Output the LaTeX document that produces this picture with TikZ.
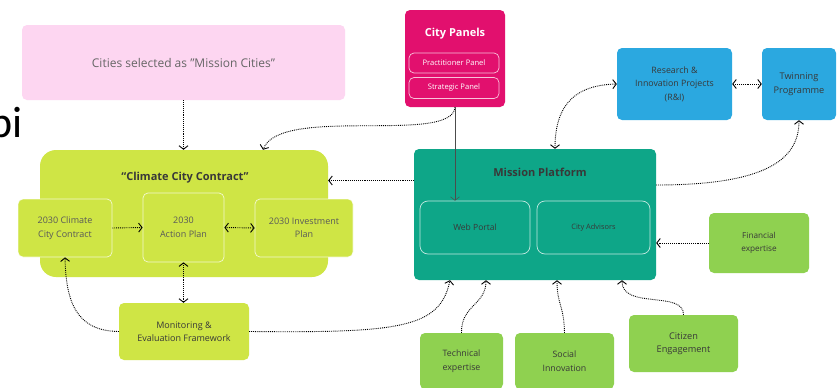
\documentclass[tikz,border=0pt]{standalone}
\usepackage{fontspec}
\setmainfont{Open Sans}
\newfontfamily\calib{Carlito}
\usetikzlibrary{arrows.meta}
\definecolor{pinkL}{HTML}{FDD6F1}
\definecolor{mag}{HTML}{E2106E}
\definecolor{skyb}{HTML}{2BA8E0}
\definecolor{lime}{HTML}{CFE545}
\definecolor{teal}{HTML}{0EA688}
\definecolor{grn}{HTML}{8FD150}
\definecolor{txt}{HTML}{383838}
\tikzset{
  wh/.style n args={2}{minimum width=#1pt, minimum height=#2pt},
  box/.style={rounded corners=5pt, inner sep=0pt, align=center, text=txt},
  fs/.style={font=\fontsize{#1}{13.5}\selectfont},
  subbox/.style={box, draw=white, draw opacity=0.75, line width=0.7pt},
  con/.style={densely dotted, line width=0.9pt, -{Straight Barb[length=3.5pt,width=9pt]}},
  bicon/.style={densely dotted, line width=0.9pt, {Straight Barb[length=3.5pt,width=9pt]}-{Straight Barb[length=3.5pt,width=9pt]}}
}
\begin{document}
\begin{tikzpicture}[x=1pt,y=-1pt]
\useasboundingbox (0,0) rectangle (838,388);
\fill[white] (0,0) rectangle (838,388);
% stray slide text
\node[anchor=base east, inner sep=0pt, font=\calib\fontsize{44}{44}\selectfont] (pi) at (23,137) {pi};
% top row
\node[box, wh={323}{75}, fill=pinkL, text=black!60, fs=12] (cities) at (183.5,62.5) {Cities selected as "Mission Cities"};
\node[box, wh={100}{97}, fill=mag] (panels) at (455,58.5) {};
\node[text=white, font=\fontsize{11}{13}\selectfont\bfseries] (ptitle) at (455,34) {City Panels};
\node[subbox, wh={90}{20}, fill=mag, text=white, fs=7.6] (prac) at (454,63) {Practitioner Panel};
\node[subbox, wh={90}{21}, fill=mag, text=white, fs=7.6] (strat) at (454,88) {Strategic Panel};
\node[box, wh={115}{72}, fill=skyb, fs=8.8] (research) at (674.5,84) {Research \&\\Innovation Projects\\(R\&I)};
\node[box, wh={74}{72}, fill=skyb, fs=9.2] (twin) at (799,84) {Twinning\\Programme};
% climate city contract
\node[box, rounded corners=16pt, wh={288}{127}, fill=lime] (ccc) at (184,213.5) {};
\node[text=txt, font=\fontsize{11}{13}\selectfont\bfseries] (ctitle) at (185,178) {“Climate City Contract”};
\node[subbox, wh={94}{58}, fill=lime, text=black!65, fs=9] (c1) at (65,228) {2030 Climate\\City Contract};
\node[subbox, wh={81}{69}, fill=lime, text=black!65, fs=9] (c2) at (183.5,227.5) {2030\\Action Plan};
\node[subbox, wh={98}{58}, fill=lime, text=black!65, fs=9] (c3) at (304,228) {2030 Investment\\Plan};
\node[box, wh={130}{57}, fill=lime, fs=9] (mon) at (184,331.5) {Monitoring \&\\Evaluation Framework};
% mission platform
\node[box, wh={242}{131}, fill=teal] (mp) at (535,214.5) {};
\node[text=txt, font=\fontsize{11}{13}\selectfont\bfseries] (mtitle) at (540,172) {Mission Platform};
\node[subbox, rounded corners=8pt, wh={110}{53}, fill=teal, fs=8.5] (web) at (475,227.5) {Web Portal};
\node[subbox, rounded corners=8pt, wh={113}{53}, fill=teal, fs=7.4] (adv) at (593.5,227.5) {City Advisors};
% supporting boxes
\node[box, wh={100}{60}, fill=grn, fs=8.2] (fin) at (759,243) {Financial\\expertise};
\node[box, wh={83}{56}, fill=grn, fs=8.8] (tech) at (461.5,361) {Technical\\expertise};
\node[box, wh={99}{56}, fill=grn, fs=8.8] (soc) at (564.5,361) {Social\\Innovation};
\node[box, wh={109}{57}, fill=grn, fs=9.2] (cit) at (683.5,343.5) {Citizen\\Engagement};
% connectors
\draw[con] (cities.south) -- (cities.south |- ccc.north);
\draw[con] (panels.south) .. controls (452,145) and (280,105) .. ([xshift=79pt]ccc.north);
\draw[-{Straight Barb[length=3.5pt,width=9pt]}, line width=0.5pt, black!70] (panels.south) -- (panels.south |- web.north);
\draw[con] ([yshift=34pt]mp.west) -- ([yshift=34pt]mp.west -| ccc.east);
\draw[bicon] ([xshift=20pt]mp.north) .. controls (555,100) and (580,85) .. (research.west);
\draw[bicon] (research.east) -- (twin.west);
\draw[con] ([yshift=29.5pt]mp.east) .. controls (765,185) and (799,160) .. (twin.south);
\draw[con] (fin.west) -- (fin.west -| mp.east);
\draw[con] (c1.east) -- (c2.west);
\draw[bicon] (c2.east) -- (c3.west);
\draw[bicon] (c2.south) -- (c2.south |- mon.north);
\draw[con] (mon.west) .. controls (75,331) and (66,300) .. (c1.south);
\draw[con] (mon.east) .. controls (400,333) and (440,328) .. ([xshift=-85pt]mp.south);
\draw[con] (tech.north) .. controls (461,305) and (486,305) .. ([xshift=-49pt]mp.south);
\draw[con] (soc.north) .. controls (564,305) and (557,305) .. ([xshift=22pt]mp.south);
\draw[con] (cit.north) .. controls (684,290) and (622,310) .. ([xshift=87pt]mp.south);
\end{tikzpicture}
\end{document}
